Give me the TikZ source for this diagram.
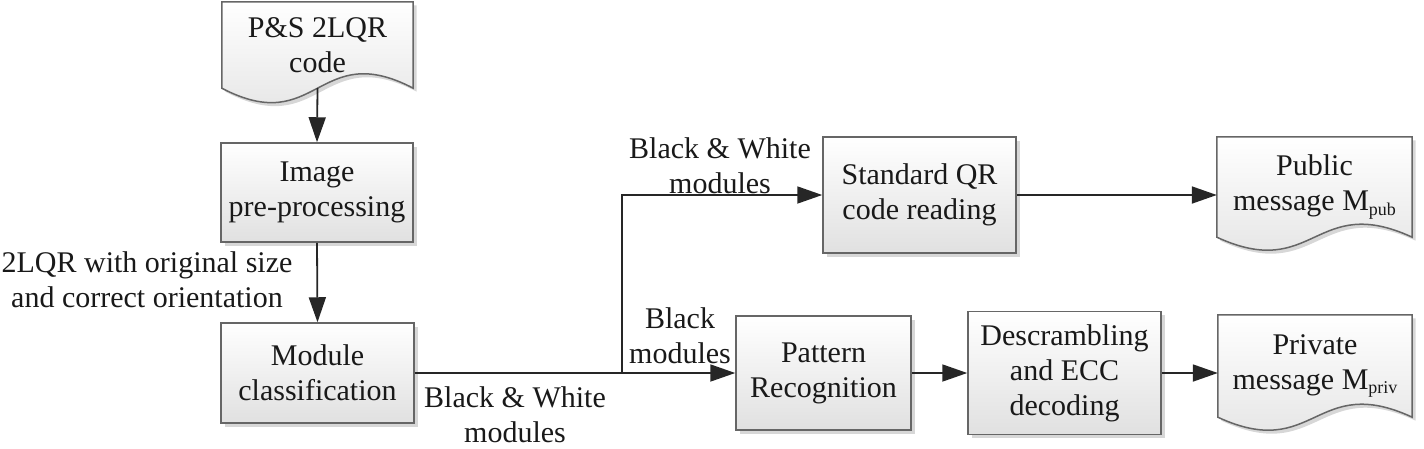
\documentclass[tikz,border=0pt]{standalone}
\usepackage{fontspec}
\setmainfont{Liberation Serif}
\usetikzlibrary{arrows.meta,shadows,backgrounds,calc}
\newcommand\subtxt[1]{\raisebox{-0.3ex}{\fontsize{18}{18}\selectfont #1}}
\begin{document}
\begin{tikzpicture}[x=1pt,y=-1pt,
  lbl/.style={font=\fontsize{30}{35}\selectfont, align=center, inner sep=0pt, text=black!90},
  shapefill/.style={draw=black!60, line width=1.5pt, top color=white, bottom color=black!12,
    drop shadow={shadow xshift=3.5pt,shadow yshift=-3.5pt,fill=black!35,opacity=0.45}},
  procbox/.style={lbl, shapefill},
  docnode/.style={lbl},
  conn/.style={line width=1.8pt, draw=black!85},
  arr/.style={conn, -{Triangle[length=25pt,width=17pt]}}
]
\useasboundingbox (0,0) rectangle (1424,448);

% document nodes (text only, shape drawn on background)
\node[docnode, minimum width=191pt, minimum height=86pt] (doc) at (317.5,45) {P\&S 2LQR\\code};
\node[docnode, minimum width=195pt, minimum height=100pt] (pub) at (1314.5,187) {Public\\message M\subtxt{pub}};
\node[docnode, minimum width=194pt, minimum height=102pt] (priv) at (1315,366) {Private\\message M\subtxt{priv}};

\begin{scope}[on background layer]
  \foreach \n/\k in {doc/50,pub/45,priv/45}{
    \path[shapefill] (\n.north west) -- (\n.north east) -- (\n.south east)
      .. controls ($(\n.south)+(0,-\k)$) and ($(\n.south)+(0,\k)$) .. (\n.south west) -- cycle;
  }
\end{scope}

% process boxes
\node[procbox, minimum width=192pt, minimum height=99pt] (pre) at (317,192.5) {Image\\pre-processing};
\node[procbox, minimum width=193pt, minimum height=100pt] (mod) at (317.5,373) {Module\\classification};
\node[procbox, minimum width=193pt, minimum height=116pt] (sqr) at (919.5,195) {Standard QR\\code reading};
\node[procbox, minimum width=175pt, minimum height=114pt] (pat) at (823.5,373) {Pattern\\Recognition};
\node[procbox, minimum width=193pt, minimum height=123pt] (des) at (1064.5,373) {Descrambling\\and ECC\\decoding};

% labels
\node[lbl] (l1) at (147,280) {2LQR with original size\\and correct orientation};
\node[lbl] (l2) at (720,166) {Black \& White\\modules};
\node[lbl] (l3) at (515,415) {Black \& White\\modules};
\node[lbl] (l4) at (680,336) {Black\\modules};

% connectors
\coordinate (j) at (622,373);
\draw[arr] (doc.south) -- (pre.north);
\draw[arr] (pre.south) -- (mod.north);
\draw[conn] (mod.east) -- (j);
\draw[arr] (j) -- (pat.west);
\draw[arr] (j) |- (sqr.west);
\draw[arr] (sqr.east) -- (sqr.east -| pub.west);
\draw[arr] (pat.east) -- (des.west);
\draw[arr] (des.east) -- (des.east -| priv.west);
\end{tikzpicture}
\end{document}
